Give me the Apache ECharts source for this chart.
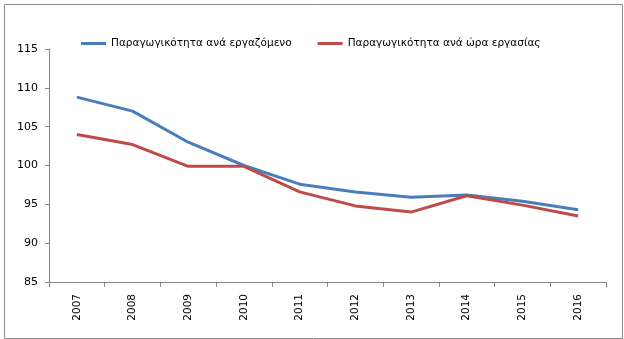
<!DOCTYPE html>
<html>
<head>
<meta charset="utf-8">
<style>
  html, body { margin: 0; padding: 0; background: #ffffff; }
  #chart { width: 624px; height: 339px; }
</style>
<script src="https://cdn.jsdelivr.net/npm/echarts@6/dist/echarts.min.js"></script>
</head>
<body>
<div id="chart"></div>
<script>
// Years on the category axis
const years = ['2007', '2008', '2009', '2010', '2011', '2012', '2013', '2014', '2015', '2016'];

// Productivity indices (2010 = 100)
const perEmployee = [108.8, 107.0, 103.0, 100.0, 97.6, 96.6, 95.9, 96.2, 95.4, 94.3];
const perHour = [104.0, 102.7, 99.9, 99.9, 96.6, 94.8, 94.0, 96.1, 94.9, 93.5];

const seriesNames = ['Παραγωγικότητα ανά εργαζόμενο', 'Παραγωγικότητα ανά ώρα εργασίας'];

// Value axis ticks
const yMin = 85, yMax = 115, yStep = 5;

const FONT = 'DejaVu Sans';
const axisGray = '#868686';

const chart = echarts.init(document.getElementById('chart'), null, { renderer: 'canvas' });

chart.setOption({
  animation: false,
  backgroundColor: '#ffffff',
  textStyle: { fontFamily: FONT },
  graphic: [{
    type: 'rect',
    left: 2, top: 2,
    shape: { width: 618, height: 334 },
    style: { fill: 'none', stroke: '#8c8c8c', lineWidth: 1 },
    silent: true
  }],
  legend: {
    left: 81,
    top: 38,
    padding: 0,
    itemWidth: 25,
    itemHeight: 3,
    itemGap: 26,
    icon: 'rect',
    textStyle: { fontFamily: FONT, fontSize: 10.5, color: '#000000' },
    data: seriesNames
  },
  grid: { left: 49, right: 18, top: 49, bottom: 57, containLabel: false },
  xAxis: {
    type: 'category',
    data: years,
    boundaryGap: true,
    axisLine: { lineStyle: { color: axisGray, width: 1 } },
    axisTick: { show: true, length: 5, lineStyle: { color: axisGray } },
    axisLabel: { rotate: 90, margin: 12, fontFamily: FONT, fontSize: 10.5, color: '#000000' },
    splitLine: { show: false }
  },
  yAxis: {
    type: 'value',
    min: yMin, max: yMax, interval: yStep,
    axisLine: { show: true, lineStyle: { color: axisGray, width: 1 } },
    axisTick: { show: true, length: 4, lineStyle: { color: axisGray } },
    axisLabel: { margin: 11, fontFamily: FONT, fontSize: 11, color: '#000000' },
    splitLine: { show: false }
  },
  series: [
    {
      name: seriesNames[0],
      type: 'line',
      data: perEmployee,
      symbol: 'none',
      color: '#4a7ebb',
      lineStyle: { width: 3, color: '#4a7ebb' }
    },
    {
      name: seriesNames[1],
      type: 'line',
      data: perHour,
      symbol: 'none',
      color: '#be4b48',
      lineStyle: { width: 3, color: '#be4b48' }
    }
  ]
});
</script>
</body>
</html>
